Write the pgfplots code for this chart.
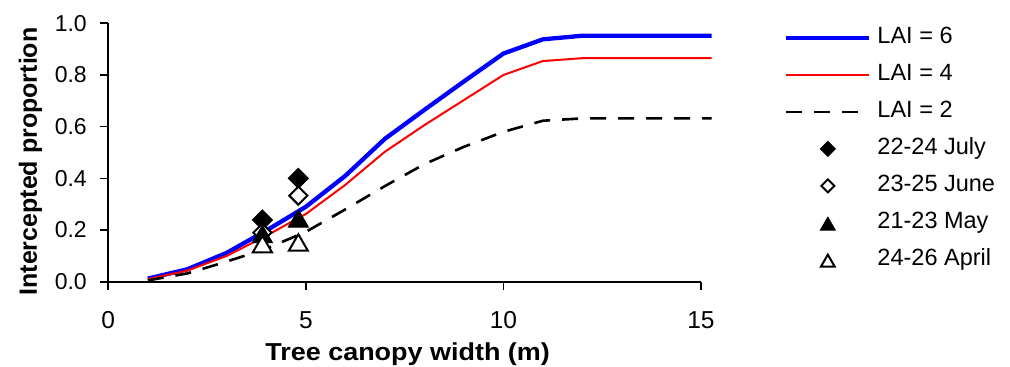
\documentclass[border=0pt]{standalone}
\usepackage{fontspec}
\setmainfont{Liberation Sans}
\usepackage{pgfplots}
\pgfplotsset{compat=1.18}
\pgfplotsset{
  lineleg/.style={legend image code/.code={\draw[##1] (0pt,0pt) -- (83pt,0pt);}},
  markleg/.style={legend image code/.code={\draw[##1, mark size=#1] plot coordinates {(41.5pt,0pt)};}},
}
\begin{document}
\begin{tikzpicture}
\begin{axis}[
  scale only axis,
  width=592.7pt, height=258.4pt,
  xmin=0, xmax=15, ymin=0, ymax=1,
  clip=false,
  axis x line*=bottom, axis y line*=left,
  axis line style={line width=1.6pt},
  xtick={0,5,10,15},
  ytick={0,0.2,0.4,0.6,0.8,1.0},
  yticklabel style={/pgf/number format/fixed, /pgf/number format/fixed zerofill, /pgf/number format/precision=1},
  /pgf/number format/assume math mode=true,
  xtick pos=bottom, ytick pos=left,
  xtick align=outside, ytick align=outside,
  major tick length=8pt,
  xtick style={draw=black, line width=1.6pt},
  ytick style={draw=black, line width=1.6pt},
  xticklabel style={font=\fontsize{24.5}{28}\selectfont, anchor=center, yshift=-30.3pt},
  yticklabel style={font=\fontsize{23}{26}\selectfont},
  yticklabel shift=10pt,
  xlabel={\scalebox{1.1}[1]{Tree canopy width (m)}},
  ylabel={Intercepted proportion},
  xlabel style={font=\fontsize{24.5}{30}\selectfont\bfseries, at={(axis description cs:0.5,0)}, anchor=base, yshift=-79pt, xshift=3pt},
  ylabel style={font=\fontsize{25}{30}\selectfont\bfseries, at={(axis description cs:0,0.5)}, anchor=base, xshift=-9pt, yshift=71.3pt},
  legend style={at={(axis description cs:1.14,0.985)}, anchor=north west, draw=none, fill=none, inner sep=0pt,
    font=\fontsize{23.5}{27}\selectfont, row sep=16pt,
    nodes={inner sep=0pt, text height=16pt, text depth=5pt}},
  legend cell align=left,
  /tikz/every odd column/.append style={column sep=6pt},
]
\addplot[blue, line width=4.3pt, line join=round, lineleg] coordinates {
 (1,0.012) (2,0.048) (3,0.112) (4,0.198) (5,0.29) (6,0.41) (7,0.553) (8,0.665) (9,0.775) (10,0.883) (11,0.938) (12,0.952) (15.27,0.952)};
\addlegendentry{LAI = 6}
\addplot[red, line width=2pt, line join=round, lineleg] coordinates {
 (1,0.01) (2,0.043) (3,0.10) (4,0.178) (5,0.262) (6,0.375) (7,0.503) (8,0.606) (9,0.703) (10,0.800) (11,0.854) (12,0.865) (15.27,0.865)};
\addlegendentry{LAI = 4}
\addplot[black, line width=2.6pt, dash pattern=on 16pt off 12pt, lineleg] coordinates {
 (1,0.005) (2,0.032) (3,0.078) (4,0.128) (5,0.193) (6,0.28) (7,0.37) (8,0.455) (9,0.522) (10,0.58) (11,0.623) (12,0.632) (15.27,0.632)};
\addlegendentry{LAI = 2}
\addplot[only marks, mark=square*, mark size=7.07pt, mark options={rotate=45, fill=black, draw=black, line width=1pt},
  markleg=5.3pt] coordinates {(3.9,0.239) (4.81,0.400)};
\addlegendentry{22-24 July}
\addplot[only marks, mark=square*, mark size=6.4pt, mark options={rotate=45, fill=white, draw=black, line width=2pt},
  markleg=4.6pt] coordinates {(3.9,0.19) (4.81,0.333)};
\addlegendentry{23-25 June}
\addplot[only marks, mark=triangle*, mark size=11.5pt, mark options={fill=black, draw=black, line width=1pt, yshift=-2.9pt},
  markleg=8.5pt] coordinates {(3.9,0.185) (4.81,0.245)};
\addlegendentry{21-23 May}
\addplot[only marks, mark=triangle*, mark size=11pt, mark options={fill=white, draw=black, line width=2pt, yshift=-2.8pt},
  markleg=8pt] coordinates {(3.9,0.146) (4.81,0.152)};
\addlegendentry{24-26 April}
\coordinate (sw) at (rel axis cs:0,0);
\end{axis}
\pgfresetboundingbox
\path[use as bounding box] ([shift={(-108.3pt,-85.3pt)}]sw) rectangle ++(1010pt,367pt);
\end{tikzpicture}
\end{document}
